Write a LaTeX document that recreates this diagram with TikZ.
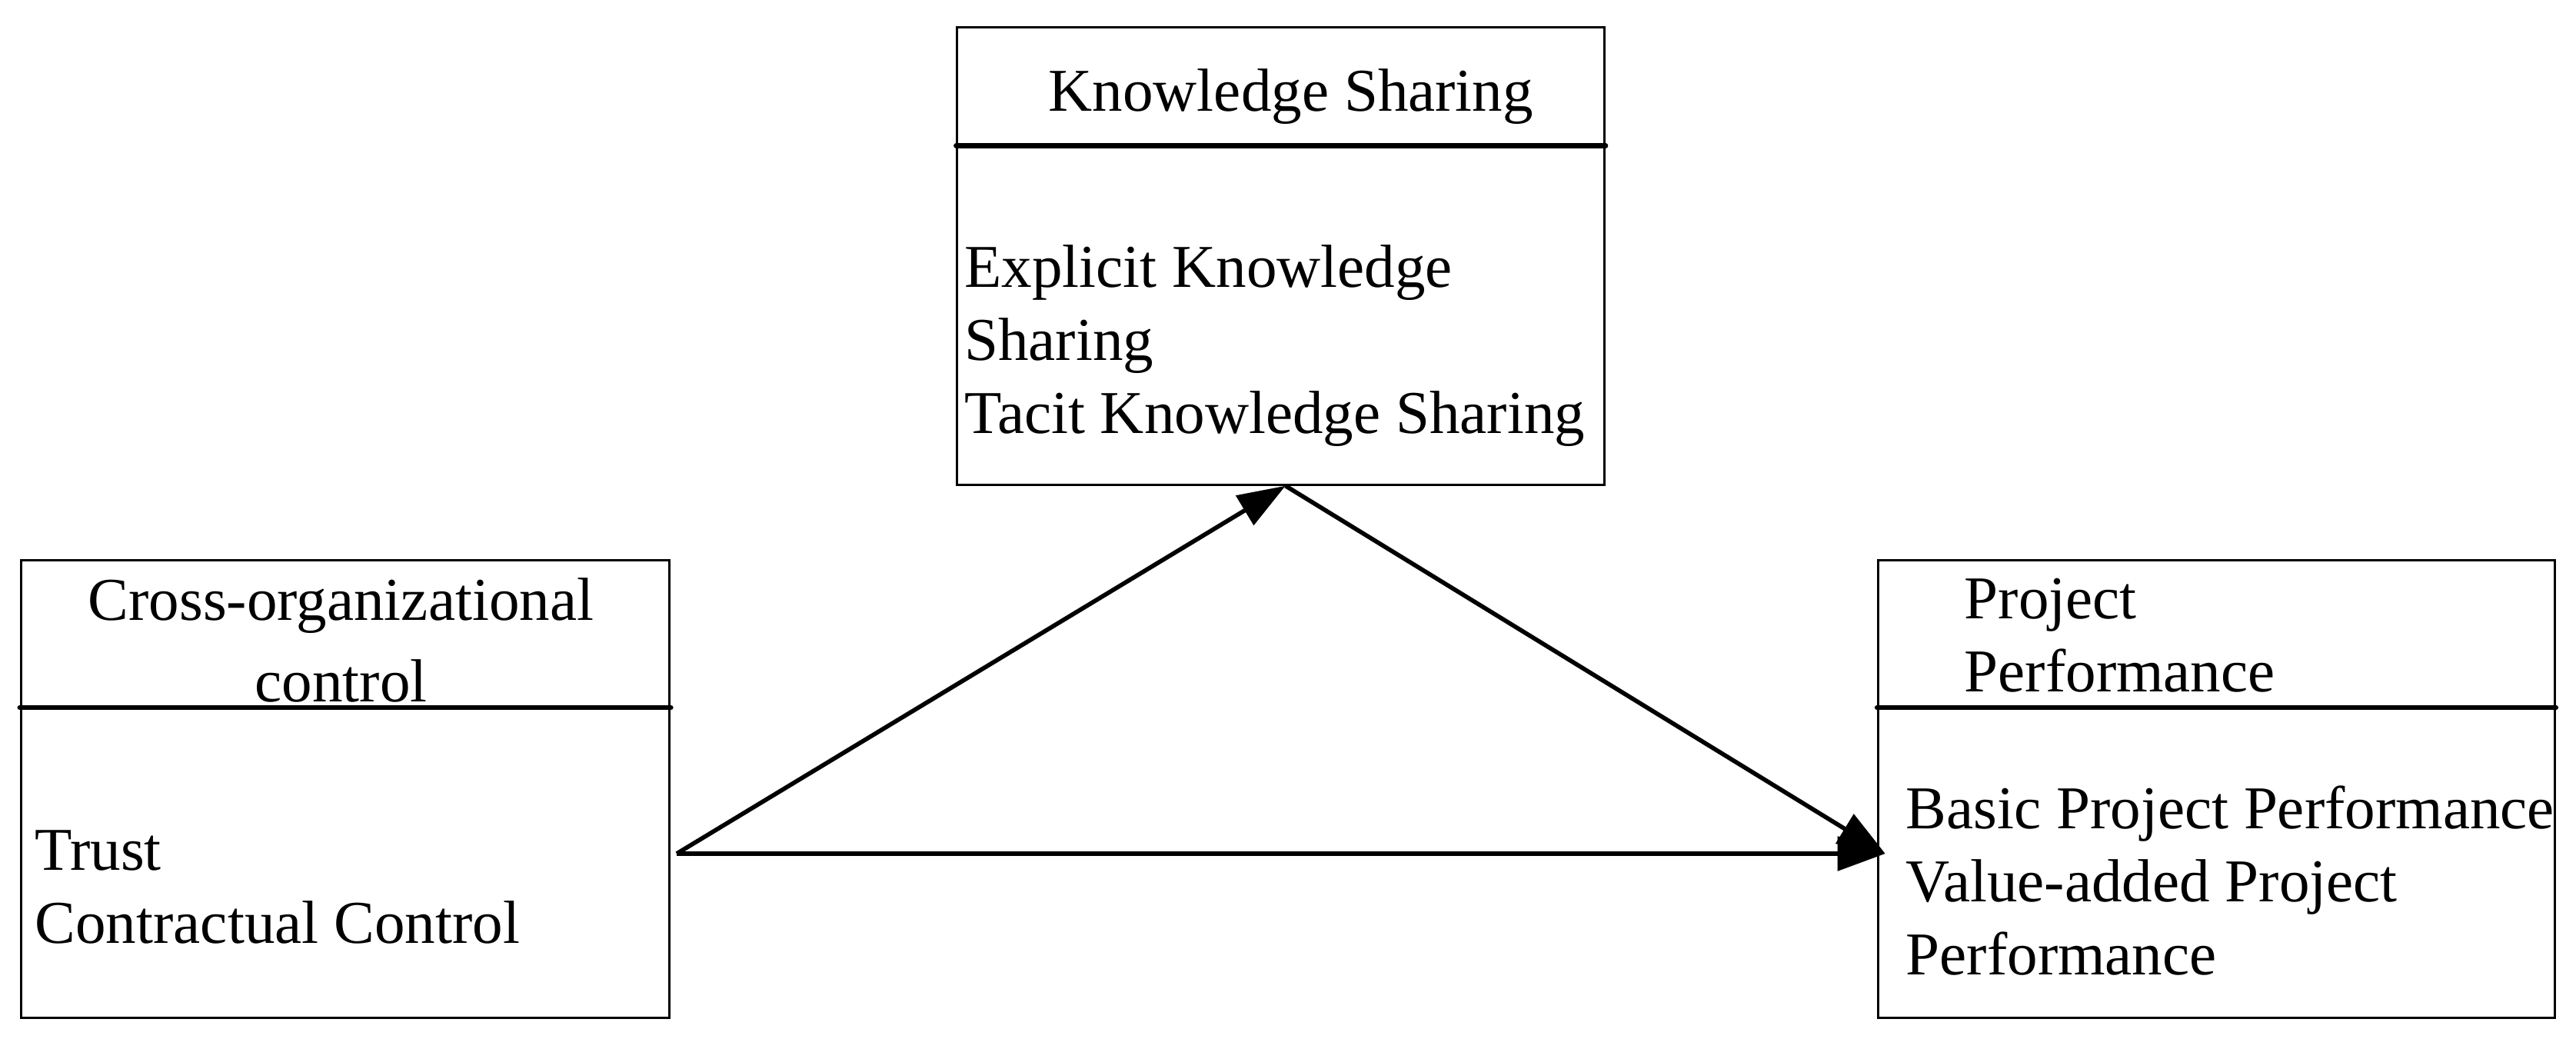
\documentclass[tikz,border=0pt]{standalone}
\usepackage{fontspec}
\setmainfont{Liberation Serif}
\usepackage{tikz}
\usetikzlibrary{positioning,arrows.meta}

\begin{document}
\begin{tikzpicture}[
  box/.style={draw,line width=0.9pt,inner sep=0pt,anchor=south west},
  divider/.style={line width=1.8pt,line cap=round},
  label/.style={inner sep=0pt,font=\fontsize{22.5}{27}\selectfont},
  link/.style={line width=1.6pt,-{Triangle[length=0.62cm,width=0.44cm]}}
]
\useasboundingbox (0,0) rectangle (33.5,13.5);

% Boxes
\node[box,minimum width=8.436cm,minimum height=5.95cm] (cco) at (0.257,0.25) {};
\node[box,minimum width=8.417cm,minimum height=5.95cm] (ks) at (12.433,7.183) {};
\node[box,minimum width=8.797cm,minimum height=5.95cm] (pp) at (24.41,0.25) {};

\draw[divider] ([yshift=-1.933cm]cco.north west) -- ([yshift=-1.933cm]cco.north east);
\draw[divider] ([yshift=-1.56cm]ks.north west) -- ([yshift=-1.56cm]ks.north east);
\draw[divider] ([yshift=-1.933cm]pp.north west) -- ([yshift=-1.933cm]pp.north east);

% Texts
\node[label,align=center,anchor=north] (cco-title) at (4.435,5.988) {Cross-organizational\\[3pt]control};
\node[label,align=left,anchor=north west] (cco-body) at (0.45,2.709) {Trust\\Contractual Control};
\node[label,anchor=base west] (ks-title) at (13.63,12.05) {Knowledge Sharing};
\node[label,align=left,anchor=north west] (ks-body) at (12.535,10.318) {Explicit Knowledge\\Sharing\\Tacit Knowledge Sharing};
\node[label,align=left,anchor=north west] (pp-title) at (25.54,5.982) {Project\\Performance};
\node[label,align=left,anchor=north west] (pp-body) at (24.78,3.285) {Basic Project Performance\\Value-added Project\\Performance};

% Arrows
\coordinate (src) at (8.80,2.40);
\coordinate (ks-in) at (16.717,7.183);
\coordinate (pp-in) at (24.517,2.40);

\draw[link] (src) -- (ks-in);
\draw[link] (ks-in) -- (pp-in);
\draw[link] (src) -- (pp-in);
\end{tikzpicture}
\end{document}
